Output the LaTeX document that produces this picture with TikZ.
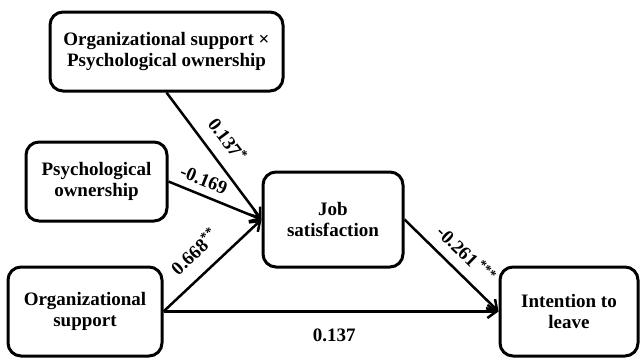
\documentclass[tikz,border=0pt]{standalone}
\usepackage{fontspec}
\setmainfont{Liberation Serif}
\usetikzlibrary{arrows.meta}
\tikzset{
  box/.style={draw, line width=3pt, rounded corners=13pt, align=center,
    font=\fontsize{19}{20.5}\selectfont\bfseries, inner sep=0pt},
  conn/.style={line width=2.5pt, -{Straight Barb[length=9pt,width=13pt,line width=2.5pt]}},
  lab/.style={font=\fontsize{19}{20}\selectfont\bfseries, inner sep=0pt, sloped}
}
\begin{document}
\begin{tikzpicture}[x=1pt,y=-1pt]
\useasboundingbox (0,0) rectangle (640,359);
\node[box, minimum width=233pt, minimum height=79pt] (int) at (166.5,51.5)
  {Organizational support ×\\Psychological ownership};
\node[box, minimum width=141pt, minimum height=79pt] (po) at (96.5,181.5)
  {Psychological\\ownership};
\node[box, minimum width=154pt, minimum height=89pt] (os) at (85,311.5)
  {Organizational\\support};
\node[box, minimum width=140pt, minimum height=95pt] (js) at (333,219.5)
  {Job\\satisfaction};
\node[box, minimum width=138pt, minimum height=89pt] (il) at (569,311.5)
  {Intention to\\leave};
\draw[conn] (int.south) -- (js.west)
  node[lab, pos=0.47, above=12pt] {0.137\textsuperscript{*}};
\draw[conn] (po.east) -- (js.west)
  node[lab, pos=0.32, above=7pt] {-0.169};
\draw[conn] (os.east) -- (js.west)
  node[lab, pos=0.47, above=14pt] {0.668\textsuperscript{**}};
\draw[conn] (js.east) -- (il.west)
  node[lab, pos=0.52, above=10pt] {-0.261\,\textsuperscript{***}};
\draw[conn] (os.east) -- (il.west)
  node[lab, pos=0.51, below=16pt] {0.137};
\end{tikzpicture}
\end{document}
